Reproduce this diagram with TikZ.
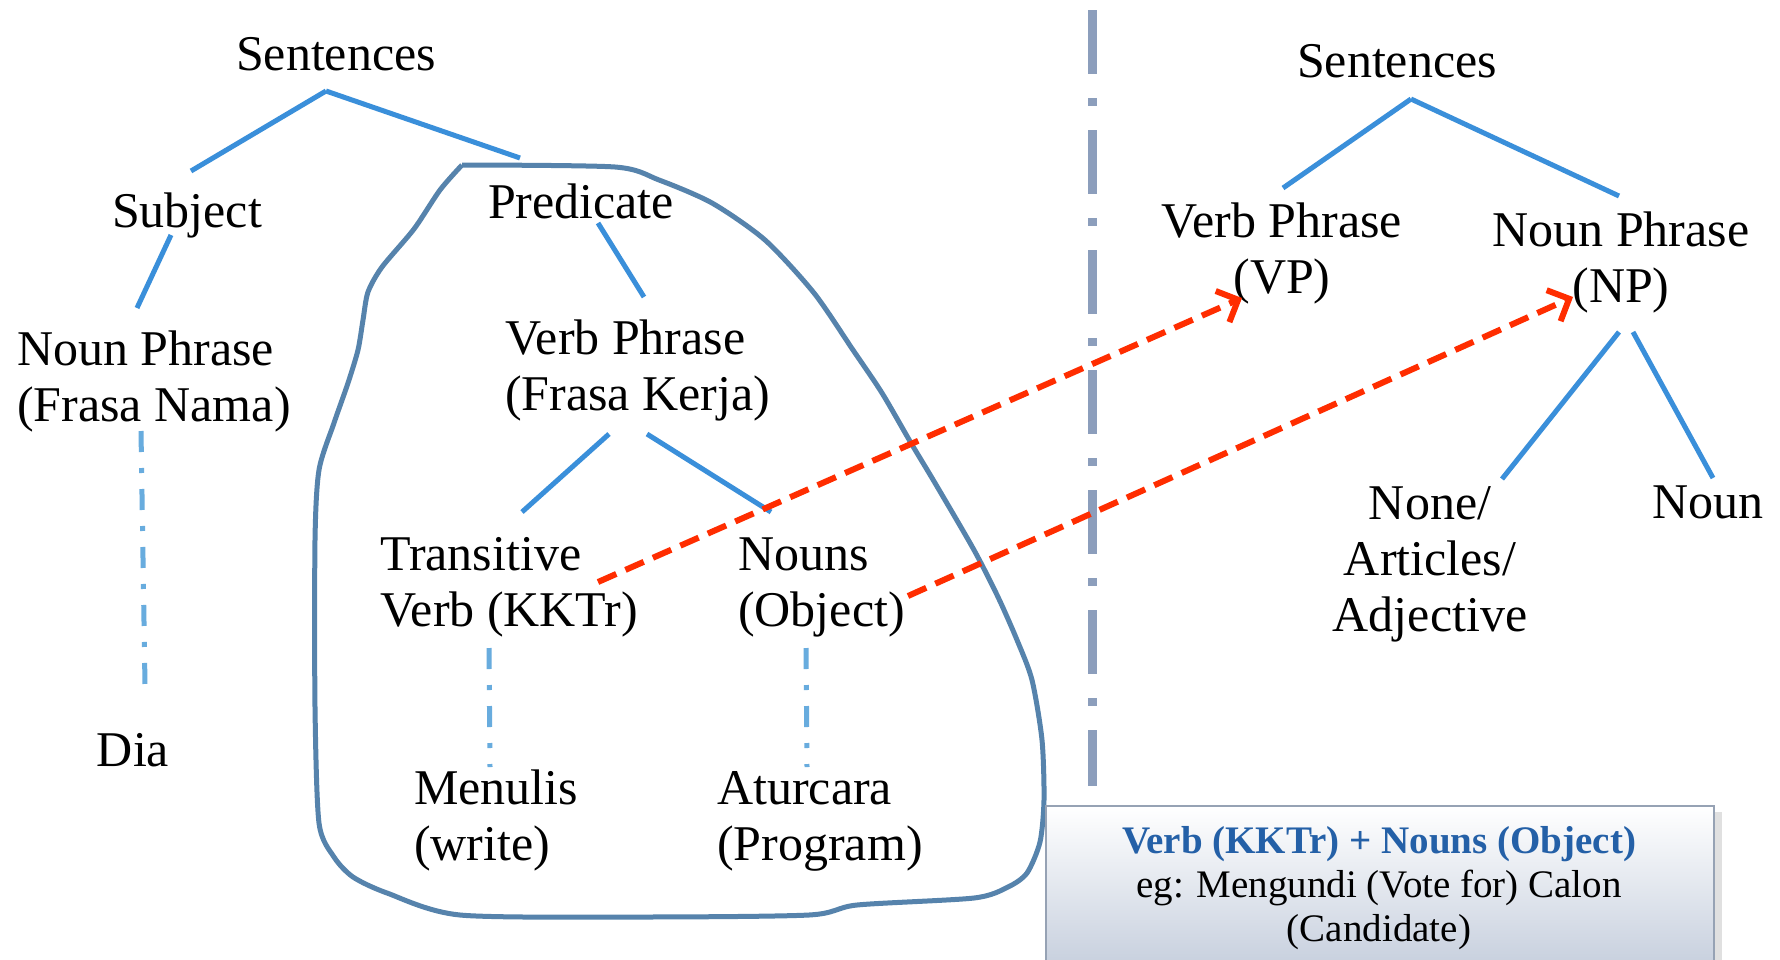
\documentclass[tikz,border=0pt]{standalone}
\usepackage{fontspec}
\setmainfont{Liberation Serif}
\usetikzlibrary{arrows.meta,calc}
\definecolor{treeblue}{RGB}{58,143,218}
\definecolor{dotblue}{RGB}{104,172,222}
\definecolor{blobblue}{RGB}{86,131,172}
\definecolor{sepgray}{RGB}{140,158,188}
\definecolor{arrowred}{RGB}{255,45,0}
\definecolor{boxblue}{RGB}{36,96,167}
\definecolor{boxfill}{RGB}{196,205,220}
\definecolor{boxborder}{RGB}{150,162,180}
\tikzset{
 lbl/.style={inner sep=0pt, font=\fontsize{50}{56}\selectfont, align=center, anchor=base},
 lbll/.style={inner sep=0pt, font=\fontsize{50}{56}\selectfont, align=left, anchor=base west},
 treeline/.style={draw=treeblue, line width=5pt},
 dotline/.style={draw=dotblue, line width=5pt, dash pattern=on 21pt off 16pt on 5pt off 16pt},
 seprule/.style={draw=sepgray, line width=9pt, dash pattern=on 64pt off 24pt on 8pt off 24pt},
 redarrow/.style={draw=arrowred, line width=6pt, dash pattern=on 20pt off 10pt, -{Straight Barb[length=17pt,width=34pt,line width=6pt]}},
 outline/.style={draw=blobblue, line width=5pt, line join=round},
 notebox/.style={draw=boxborder, line width=1.5pt, top color=white, bottom color=boxfill},
}
\begin{document}
\begin{tikzpicture}[x=1pt,y=-1pt]
\clip (0,0) rectangle (1780,959);
\fill[white] (0,0) rectangle (1780,959);

% predicate outline (sharp corner at top left)
\draw[outline] plot[smooth, tension=0.45] coordinates {
 (462,165) (615,167) (659,180) (712,203) (765,240) (814,293) (853,350) (882,393)
 (911,443) (935,483) (974,550) (998,597) (1017,640) (1032,680) (1042,740) (1044,800)
 (1040,842) (1027,873) (1008,887) (974,898) (857,905) (809,915) (639,917) (460,915)
 (387,893) (353,877) (334,857) (319,823) (315,707) (315,540) (319,470) (334,423)
 (348,383) (358,350) (363,320) (368,292) (382,267) (414,229) (440,190) (462,165)};

% separator
\coordinate (septop) at (1092,10);
\coordinate (sepbot) at (1092,786);
\draw[seprule] (septop) -- (sepbot);

% left tree labels (base anchor = baseline of last line)
\node[lbl] (sentL) at (336,70) {Sentences};
\node[lbl] (subj) at (187,227) {Subject};
\node[lbll] (npL) at (17,421) {Noun Phrase\\(Frasa Nama)};
\node[lbl] (dia) at (133,766) {Dia};
\node[lbl] (pred) at (581,218) {Predicate};
\node[lbll] (vpL) at (505,410) {Verb Phrase\\(Frasa Kerja)};
\node[lbll] (trans) at (380,626) {Transitive\\Verb (KKTr)};
\node[lbll] (nouns) at (738,626) {Nouns\\(Object)};
\node[lbll] (menulis) at (414,860) {Menulis\\(write)};
\node[lbll] (aturcara) at (717,860) {Aturcara\\(Program)};

% right tree labels
\node[lbl] (sentR) at (1397,77) {Sentences};
\node[lbl] (vpR) at (1282,293) {Verb Phrase\\(VP)};
\node[lbl] (npR) at (1621,302) {Noun Phrase\\(NP)};
\node[lbl] (art) at (1430,631) {None/\\Articles/\\Adjective};
\node[lbl] (noun) at (1708,518) {Noun};

% left tree connector ends
\coordinate (sL) at (326,91);
\coordinate (subjT) at (191,171);
\coordinate (predT) at (520,158);
\coordinate (subjB) at (171,235);
\coordinate (npLT) at (137,308);
\coordinate (predB) at (598,223);
\coordinate (vpLT) at (644,297);
\coordinate (vpLBa) at (609,434);
\coordinate (vpLBb) at (647,434);
\coordinate (transT) at (522,512);
\coordinate (nounsT) at (771,512);
\coordinate (npLB) at (141,431);
\coordinate (diaT) at (145,685);
\coordinate (transB) at (489,648);
\coordinate (menT) at (490,767);
\coordinate (nounsB) at (806,648);
\coordinate (atuT) at (807,767);

\draw[treeline] (sL) -- (subjT);
\draw[treeline] (sL) -- (predT);
\draw[treeline] (subjB) -- (npLT);
\draw[treeline] (predB) -- (vpLT);
\draw[treeline] (vpLBa) -- (transT);
\draw[treeline] (vpLBb) -- (nounsT);
\draw[dotline] (npLB) -- (diaT);
\draw[dotline] (transB) -- (menT);
\draw[dotline] (nounsB) -- (atuT);

% right tree connectors
\coordinate (sR) at (1411,99);
\coordinate (vpRT) at (1283,188);
\coordinate (npRT) at (1619,196);
\coordinate (npRBa) at (1619,332);
\coordinate (npRBb) at (1633,332);
\coordinate (artT) at (1502,479);
\coordinate (nounT) at (1713,478);
\draw[treeline] (sR) -- (vpRT);
\draw[treeline] (sR) -- (npRT);
\draw[treeline] (npRBa) -- (artT);
\draw[treeline] (npRBb) -- (nounT);

% red arrows
\coordinate (r1s) at (598,582);
\coordinate (r1e) at (1242,298);
\coordinate (r2s) at (908,596);
\coordinate (r2e) at (1573,297);
\draw[redarrow] (r1s) -- (r1e);
\draw[redarrow] (r2s) -- (r2e);

% note box
\fill[black!12] (1052,812) rectangle (1722,980);
\path[notebox] (1046,806) rectangle (1714,975);
\node[inner sep=0pt, font=\fontsize{39}{44}\selectfont, align=center, anchor=base] (note) at (1379,941)
 {\textbf{\color{boxblue}Verb (KKTr) + Nouns (Object)}\\eg: Mengundi (Vote for) Calon\\(Candidate)};
\end{tikzpicture}
\end{document}
